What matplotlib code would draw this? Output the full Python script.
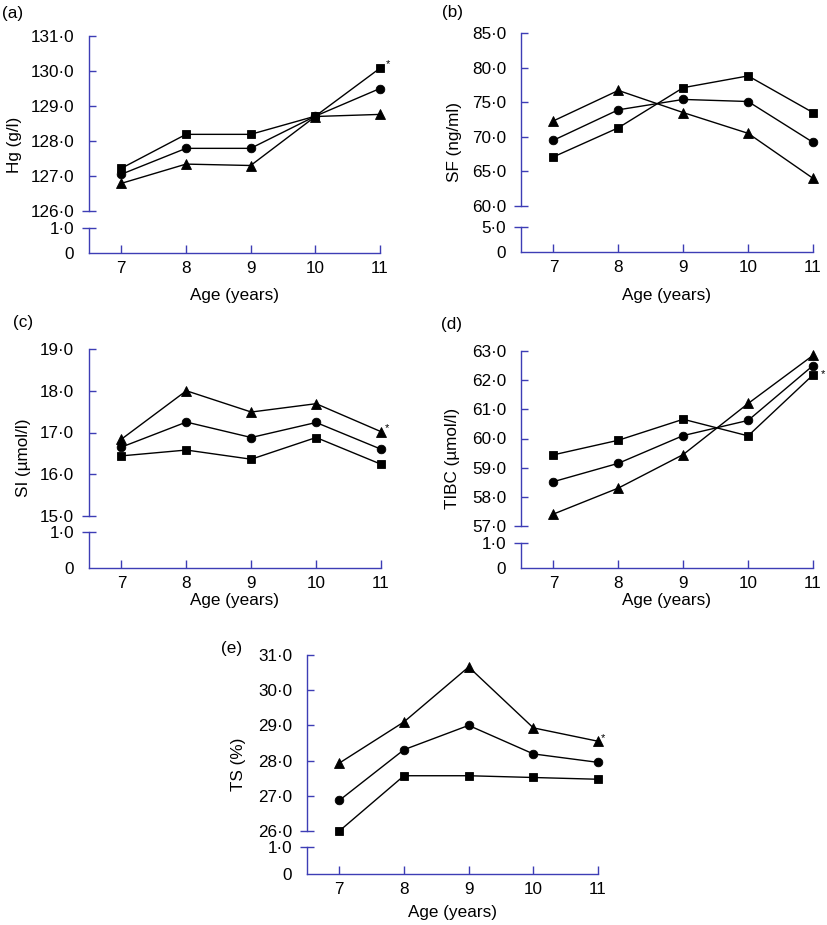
import matplotlib
matplotlib.use('Agg')
import matplotlib.pyplot as plt
import numpy as np

plt.rcParams['font.family'] = ['Liberation Sans', 'DejaVu Sans']

# ---------------- data ----------------
ages = [7, 8, 9, 10, 11]

hg_sq = [127.22, 128.19, 128.19, 128.71, 130.08]
hg_ci = [127.05, 127.79, 127.79, 128.71, 129.50]
hg_tr = [126.79, 127.34, 127.30, 128.70, 128.76]

sf_sq = [67.1, 71.3, 77.1, 78.8, 73.5]
sf_ci = [69.5, 73.9, 75.4, 75.1, 69.2]
sf_tr = [72.3, 76.7, 73.5, 70.5, 64.0]

si_sq = [16.44, 16.58, 16.36, 16.88, 16.24]
si_ci = [16.65, 17.25, 16.88, 17.24, 16.60]
si_tr = [16.84, 18.00, 17.49, 17.69, 17.02]

tibc_sq = [59.44, 59.94, 60.66, 60.09, 62.18]
tibc_ci = [58.52, 59.15, 60.10, 60.62, 62.50]
tibc_tr = [57.41, 58.30, 59.45, 61.20, 62.85]

ts_sq = [26.00, 27.57, 27.57, 27.52, 27.47]
ts_ci = [26.87, 28.31, 29.00, 28.19, 27.95]
ts_tr = [27.93, 29.10, 30.66, 28.93, 28.55]

ylabels = ['Hg (g/l)', 'SF (ng/ml)', 'SI (\u00b5mol/l)', 'TIBC (\u00b5mol/l)', 'TS (%)']
letters = ['(a)', '(b)', '(c)', '(d)', '(e)']
xlabel = 'Age (years)'

# ---------------- style ----------------
W, H = 827, 925
BLUE = '#3d3db5'
FS = 12.3

fig = plt.figure(figsize=(W / 100, H / 100), dpi=100)


def fmt(v):
    if v == 0:
        return '0'
    return f'{v:.1f}'.replace('.', '\u00b7')


def box(l, r, t, b):
    return [l / W, 1 - b / H, (r - l) / W, (b - t) / H]


def ftext(x, y, s, **kw):
    fig.text(x / W, 1 - y / H, s, fontsize=FS, **kw)


def panel(geom, ylo, yhi, ystep, lowtop, sq, ci, tr, ylab, letter,
          letter_xy, ylab_xy, xlab_top, star=None):
    l, r, t, ub, lt, b = geom
    axu = fig.add_axes(box(l, r, t, ub))
    axl = fig.add_axes(box(l, r, lt, b))
    for ax in (axu, axl):
        ax.set_xlim(6.5, 11)
        ax.patch.set_alpha(0)
        for s in ('top', 'right'):
            ax.spines[s].set_visible(False)
        ax.spines['left'].set_color(BLUE)
        ax.spines['left'].set_linewidth(1.0)
    axu.spines['bottom'].set_visible(False)
    axl.spines['bottom'].set_color(BLUE)
    axl.spines['bottom'].set_linewidth(1.0)

    # upper axis
    axu.set_ylim(ylo, yhi)
    major = np.arange(ylo + ystep, yhi + ystep / 2, ystep)
    axu.set_yticks(major)
    axu.set_yticklabels([fmt(v) for v in major])
    axu.set_yticks([ylo], minor=True)
    axu.set_yticklabels([fmt(ylo)], minor=True)
    axu.set_xticks([])
    axu.tick_params(axis='y', which='major', direction='in', length=5,
                    width=1, color=BLUE, pad=10.6, labelsize=FS)
    axu.tick_params(axis='y', which='minor', direction='inout', length=10,
                    width=1, color=BLUE, pad=5.6, labelsize=FS)

    # lower axis
    axl.set_ylim(0, lowtop)
    axl.set_yticks([0, lowtop])
    axl.set_yticklabels(['0', fmt(lowtop)])
    axl.set_xticks(ages)
    axl.set_xticklabels([str(a) for a in ages])
    axl.tick_params(axis='y', direction='inout', length=10, width=1,
                    color=BLUE, pad=5.6, labelsize=FS)
    axl.tick_params(axis='x', direction='in', length=6, width=1,
                    color=BLUE, pad=5.5, labelsize=FS)
    axl.yaxis.get_major_ticks()[0].tick1line.set_visible(False)

    kw = dict(color='black', lw=1.0, clip_on=False, mew=0.6, mec='black',
              mfc='black')
    axu.plot(ages, sq, marker='s', ms=6.2, **kw)
    axu.plot(ages, ci, marker='o', ms=6.2, **kw)
    axu.plot(ages, tr, marker='^', ms=6.6, **kw)

    if star is not None:
        series, dx, dy = star
        axu.annotate('*', xy=(11, series[-1]), xytext=(dx, dy),
                     textcoords='offset points', fontsize=8,
                     ha='center', va='center', annotation_clip=False)

    ftext(*letter_xy, letter, ha='center', va='center')
    ftext(*ylab_xy, ylab, ha='center', va='center', rotation=90)
    ftext((l + r) / 2, xlab_top, xlabel, ha='center', va='top')


panel((89, 380, 36, 211, 228, 253), 126, 131, 1, 1.0,
      hg_sq, hg_ci, hg_tr, ylabels[0], letters[0],
      (12.5, 13.5), (14.5, 145), 288, star=(hg_sq, 5.8, 2.9))
panel((521, 813, 33, 206, 227, 252), 60, 85, 5, 5.0,
      sf_sq, sf_ci, sf_tr, ylabels[1], letters[1],
      (452.5, 12), (454, 142), 288)
panel((89, 381, 349, 516, 532, 568), 15, 19, 1, 1.0,
      si_sq, si_ci, si_tr, ylabels[2], letters[2],
      (23, 322.5), (24, 458), 593, star=(si_tr, 4.3, 2.9))
panel((521, 813, 351, 526, 543, 568), 57, 63, 1, 1.0,
      tibc_sq, tibc_ci, tibc_tr, ylabels[3], letters[3],
      (452, 324), (452.5, 458), 593, star=(tibc_sq, 7.2, 0.3))
panel((307, 598, 655, 831, 847, 874), 26, 31, 1, 1.0,
      ts_sq, ts_ci, ts_tr, ylabels[4], letters[4],
      (232, 648), (238, 764), 905, star=(ts_tr, 3.6, 2.2))

fig.savefig('out.png', dpi=100)
